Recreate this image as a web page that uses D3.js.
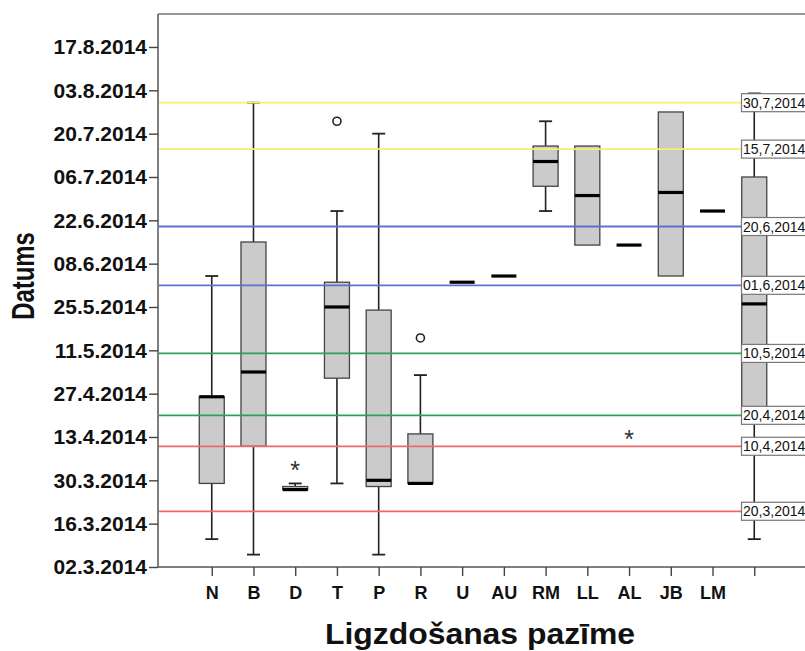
<!DOCTYPE html>
<html>
<head>
<meta charset="utf-8">
<script src="https://cdnjs.cloudflare.com/ajax/libs/d3/7.8.5/d3.min.js"></script>
<style>
  html, body { margin: 0; padding: 0; background: #fff; }
  svg { display: block; font-family: "Liberation Sans", Arial, sans-serif; }
</style>
</head>
<body>
<script>
// Nesting categories; the last, unlabeled column is all records together.
const categories = ["N", "B", "D", "T", "P", "R", "U", "AU", "RM", "LL", "AL", "JB", "LM", ""];

// Box-plot statistics per category (dates, 2014).
const whiskerLow = ["2014-03-11", "2014-03-06", "2014-03-27", "2014-03-29", "2014-03-06", "2014-03-29", "2014-06-02", "2014-06-04", "2014-06-25", "2014-06-14", "2014-06-14", "2014-06-04", "2014-06-25", "2014-03-11"];
const quartile1  = ["2014-03-29", "2014-04-10", "2014-03-27", "2014-05-02", "2014-03-28", "2014-03-29", "2014-06-02", "2014-06-04", "2014-07-03", "2014-06-14", "2014-06-14", "2014-06-04", "2014-06-25", "2014-04-18"];
const medians    = ["2014-04-26", "2014-05-04", "2014-03-27", "2014-05-25", "2014-03-30", "2014-03-29", "2014-06-02", "2014-06-04", "2014-07-11", "2014-06-30", "2014-06-14", "2014-07-01", "2014-06-25", "2014-05-26"];
const quartile3  = ["2014-04-26", "2014-06-15", "2014-03-28", "2014-06-02", "2014-05-24", "2014-04-14", "2014-06-02", "2014-06-04", "2014-07-16", "2014-07-16", "2014-06-14", "2014-07-27", "2014-06-25", "2014-07-06"];
const whiskerHigh= ["2014-06-04", "2014-07-30", "2014-03-29", "2014-06-25", "2014-07-20", "2014-05-03", "2014-06-02", "2014-06-04", "2014-07-24", "2014-07-16", "2014-06-14", "2014-07-27", "2014-06-25", "2014-08-02"];

// Outliers (circle) and extreme values (asterisk).
const outlierCategory = ["T", "R", "D", "AL"];
const outlierDate     = ["2014-07-24", "2014-05-15", "2014-04-04", "2014-04-14"];
const outlierKind     = ["outlier", "outlier", "extreme", "extreme"];

// Reference dates drawn as horizontal lines with labels.
const refDates = ["2014-07-30", "2014-07-15", "2014-06-20", "2014-06-01", "2014-05-10", "2014-04-20", "2014-04-10", "2014-03-20"];

// Axis ticks.
const yTickDates = ["2014-03-02", "2014-03-16", "2014-03-30", "2014-04-13", "2014-04-27", "2014-05-11", "2014-05-25", "2014-06-08", "2014-06-22", "2014-07-06", "2014-07-20", "2014-08-03", "2014-08-17"];
const yDomain = ["2014-03-02T00:00Z", "2014-08-27T15:40Z"];

const yTitle = "Datums";
const xTitle = "Ligzdošanas pazīme";

// ---- styling ----
const W = 805, H = 651;
const plot = { left: 158, right: 808, top: 14, bottom: 567 };
const refPalette = ["#f3f36a", "#5d70d2", "#2f9f5c", "#f26868"];
const boxFill = "#cbcbcb", boxStroke = "#444";
const boxW = 25, capW = 13;

const parse = s => new Date(s.length > 10 ? s : s + "T00:00Z");

const svg = d3.select("body").append("svg").attr("width", W).attr("height", H);

const y = d3.scaleUtc().domain(yDomain.map(parse)).range([plot.bottom, plot.top]);
const x = d3.scalePoint().domain(categories).range([plot.left, plot.right]).padding(1.288);

// Top frame line
svg.append("line")
  .attr("x1", plot.left).attr("x2", plot.right)
  .attr("y1", plot.top).attr("y2", plot.top)
  .attr("stroke", "#777").attr("stroke-width", 1.4);

// Y axis
const fmtTick = d3.utcFormat("%d.%-m.%Y");
const yAxis = svg.append("g")
  .attr("transform", `translate(${plot.left},0)`)
  .call(d3.axisLeft(y).tickValues(yTickDates.map(parse)).tickFormat(fmtTick)
        .tickSize(9).tickSizeOuter(0).tickPadding(2));
yAxis.select(".domain").attr("stroke", "#555").attr("stroke-width", 1.5)
  .attr("d", `M0,${plot.top}V${plot.bottom}`);
yAxis.selectAll(".tick line").attr("stroke", "#444").attr("stroke-width", 1.4);
yAxis.selectAll(".tick text").attr("font-size", 21).attr("font-weight", "bold")
  .attr("fill", "#111").attr("font-family", "'Liberation Sans', Arial, sans-serif");

// X axis
const xAxis = svg.append("g")
  .attr("transform", `translate(0,${plot.bottom})`)
  .call(d3.axisBottom(x).tickSize(9).tickSizeOuter(0).tickPadding(10.7));
xAxis.select(".domain").attr("stroke", "#555").attr("stroke-width", 1.5)
  .attr("d", `M${plot.left},0H${plot.right}`);
xAxis.selectAll(".tick line").attr("stroke", "#444").attr("stroke-width", 1.4);
xAxis.selectAll(".tick text").attr("font-size", 18).attr("font-weight", "bold")
  .attr("fill", "#111").attr("font-family", "'Liberation Sans', Arial, sans-serif");

// Box plots
const boxes = categories.map((c, i) => ({
  cat: c,
  lo: parse(whiskerLow[i]), q1: parse(quartile1[i]), med: parse(medians[i]),
  q3: parse(quartile3[i]), hi: parse(whiskerHigh[i])
}));

const gBox = svg.append("g");
boxes.forEach(b => {
  const cx = x(b.cat);
  const g = gBox.append("g");
  // whiskers
  if (+b.hi > +b.q3) {
    g.append("line").attr("x1", cx).attr("x2", cx).attr("y1", y(b.q3)).attr("y2", y(b.hi))
      .attr("stroke", "#222").attr("stroke-width", 1.6);
    g.append("line").attr("x1", cx - capW / 2).attr("x2", cx + capW / 2).attr("y1", y(b.hi)).attr("y2", y(b.hi))
      .attr("stroke", "#222").attr("stroke-width", 1.8);
  }
  if (+b.lo < +b.q1) {
    g.append("line").attr("x1", cx).attr("x2", cx).attr("y1", y(b.q1)).attr("y2", y(b.lo))
      .attr("stroke", "#222").attr("stroke-width", 1.6);
    g.append("line").attr("x1", cx - capW / 2).attr("x2", cx + capW / 2).attr("y1", y(b.lo)).attr("y2", y(b.lo))
      .attr("stroke", "#222").attr("stroke-width", 1.8);
  }
  // box
  g.append("rect")
    .attr("x", cx - boxW / 2).attr("width", boxW)
    .attr("y", y(b.q3)).attr("height", Math.max(0, y(b.q1) - y(b.q3)))
    .attr("fill", boxFill).attr("stroke", boxStroke).attr("stroke-width", 1.3);
  // median
  g.append("line")
    .attr("x1", cx - boxW / 2).attr("x2", cx + boxW / 2)
    .attr("y1", y(b.med)).attr("y2", y(b.med))
    .attr("stroke", "#000").attr("stroke-width", 3.2);
});

// Outliers and extremes
outlierCategory.forEach((c, i) => {
  const cx = x(c), cy = y(parse(outlierDate[i]));
  if (outlierKind[i] === "outlier") {
    svg.append("circle").attr("cx", cx).attr("cy", cy).attr("r", 4)
      .attr("fill", "none").attr("stroke", "#222").attr("stroke-width", 1.6);
  } else {
    svg.append("text").attr("x", cx).attr("y", cy + 14)
      .attr("text-anchor", "middle").attr("font-size", 25)
      .attr("fill", "#333").text("*");
  }
});

// Reference lines and their labels
const fmtRef = d3.utcFormat("%d,%-m,%Y");
const labelX = 741.5;
refDates.forEach((d, i) => {
  const dt = parse(d), ly = y(dt);
  svg.append("line")
    .attr("x1", plot.left + 1).attr("x2", labelX)
    .attr("y1", ly).attr("y2", ly)
    .attr("stroke", refPalette[Math.floor(i / 2)]).attr("stroke-width", 1.8);
});
refDates.forEach(d => {
  const dt = parse(d), ly = y(dt);
  svg.append("rect")
    .attr("x", labelX).attr("y", ly - 9).attr("width", 72).attr("height", 18)
    .attr("fill", "#fff").attr("stroke", "#777").attr("stroke-width", 1.2);
  svg.append("text")
    .attr("x", labelX + 1.5).attr("y", ly + 5)
    .attr("font-size", 14).attr("fill", "#111")
    .text(fmtRef(dt));
});

// Axis titles
svg.append("text")
  .attr("transform", "translate(34,276) rotate(-90) scale(0.77,1)")
  .attr("text-anchor", "middle").attr("font-size", 31).attr("font-weight", "bold")
  .attr("fill", "#111").text(yTitle);

svg.append("text")
  .attr("transform", "translate(480,644) scale(1.1,1)")
  .attr("text-anchor", "middle").attr("font-size", 29).attr("font-weight", "bold")
  .attr("fill", "#111").text(xTitle);
</script>
</body>
</html>
